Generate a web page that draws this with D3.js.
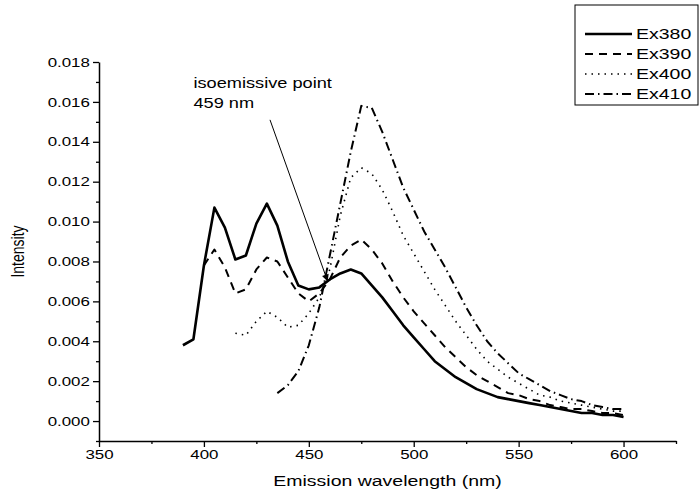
<!DOCTYPE html>
<html>
<head>
<meta charset="utf-8">
<script src="https://cdn.jsdelivr.net/npm/d3@7"></script>
<style>
  html, body { margin: 0; padding: 0; background: #fff; }
  svg { display: block; font-family: "Liberation Sans", Arial, sans-serif; }
</style>
</head>
<body>
<svg id="chart" width="700" height="495"></svg>
<script>
// ---- data ----
const wavelengths = [390, 395, 400, 405, 410, 415, 420, 425, 430, 435, 440, 445, 450, 455, 460, 465, 470,
  475, 480, 485, 490, 495, 500, 505, 510, 515, 520, 525, 530, 535, 540, 545, 550, 555, 560, 565, 570,
  575, 580, 585, 590, 595, 600];

const ex380 = [0.0038, 0.0041, 0.0078, 0.0107, 0.0097, 0.0081, 0.0083, 0.0099, 0.0109, 0.0098,
  0.0080, 0.0068, 0.0066, 0.0067, 0.0071, 0.0074, 0.0076, 0.0074, 0.0068, 0.0062,
  0.0055, 0.0048, 0.0042, 0.0036, 0.0030, 0.0026, 0.0022, 0.0019, 0.0016, 0.0014,
  0.0012, 0.0011, 0.0010, 0.0009, 0.0008, 0.0007, 0.0006, 0.0005, 0.0004, 0.0004,
  0.0003, 0.0003, 0.0002];

const ex390 = [null, null,
  0.0078, 0.0086, 0.0077, 0.0064, 0.0066, 0.0076, 0.0082, 0.0080, 0.0072, 0.0064,
  0.0060, 0.0064, 0.0071, 0.0082, 0.0088, 0.0091, 0.0086, 0.0079, 0.0070, 0.0062,
  0.0055, 0.0049, 0.0043, 0.0037, 0.0032, 0.0027, 0.0023, 0.0020, 0.0017, 0.0014,
  0.0013, 0.0011, 0.0010, 0.0008, 0.0007, 0.0006, 0.0006, 0.0005, 0.0004, 0.0004,
  0.0003];

const ex400 = [null, null, null, null, null,
  0.0044, 0.0043, 0.0050, 0.0055, 0.0052, 0.0047, 0.0048, 0.0054, 0.0062, 0.0076,
  0.0103, 0.0122, 0.0127, 0.0124, 0.0116, 0.0105, 0.0093, 0.0084, 0.0075, 0.0066,
  0.0058, 0.0050, 0.0043, 0.0036, 0.0030, 0.0026, 0.0022, 0.0019, 0.0016, 0.0013,
  0.0012, 0.0010, 0.0009, 0.0008, 0.0007, 0.0006, 0.0005, 0.0005];

const ex410 = [null, null, null, null, null, null, null, null, null,
  0.0014, 0.0018, 0.0025, 0.0038, 0.0057, 0.0083, 0.0109, 0.0135, 0.0158, 0.0157,
  0.0145, 0.0131, 0.0117, 0.0106, 0.0095, 0.0086, 0.0077, 0.0067, 0.0057, 0.0048,
  0.0040, 0.0034, 0.0029, 0.0024, 0.0021, 0.0018, 0.0015, 0.0013, 0.0011, 0.0010,
  0.0008, 0.0007, 0.0006, 0.0006];

const seriesNames = ['Ex380', 'Ex390', 'Ex400', 'Ex410'];
const seriesValues = [ex380, ex390, ex400, ex410];

const xMajorTicks = [350, 400, 450, 500, 550, 600];
const xMinorTicks = [375, 425, 475, 525, 575, 625];
const yMajorTicks = [0, 0.002, 0.004, 0.006, 0.008, 0.010, 0.012, 0.014, 0.016, 0.018];
const yMinorTicks = [-0.001, 0.001, 0.003, 0.005, 0.007, 0.009, 0.011, 0.013, 0.015, 0.017];

const isoPoint = { wl: 459, value: 0.0070 };
const isoLabel = ['isoemissive point', '459 nm'];

// ---- styles ----
const SX = 1.3; // source figure is stretched horizontally, so text is too
const styles = [
  { dash: null,          width: 2.6 },
  { dash: '8,6',         width: 2.0 },
  { dash: '1.5,5',       width: 1.6 },
  { dash: '9,4,1.5,4',   width: 2.0 }
];

const svg = d3.select('#chart');
const x = d3.scaleLinear().domain([350, 625]).range([99, 676]);
const y = d3.scaleLinear().domain([-0.001, 0.018]).range([441, 62]);

const defs = svg.append('defs');
defs.append('marker').attr('id', 'arrow')
  .attr('viewBox', '0 0 10 10').attr('refX', 10).attr('refY', 5)
  .attr('markerWidth', 9).attr('markerHeight', 7).attr('orient', 'auto')
  .attr('markerUnits', 'userSpaceOnUse')
  .append('path').attr('d', 'M0,0 L10,5 L0,10 z').attr('fill', '#000');

// ---- axes ----
const stretch = sel => sel.selectAll('text').attr('transform', `scale(${SX},1)`);

const gx = svg.append('g').attr('transform', `translate(0,${y.range()[0]})`);
gx.call(d3.axisBottom(x).tickValues(xMajorTicks).tickFormat(d3.format('d'))
    .tickSize(6).tickPadding(3).tickSizeOuter(0))
  .call(g => g.select('.domain').attr('stroke-width', 1.5))
  .call(g => g.selectAll('line').attr('stroke-width', 1.3))
  .call(g => g.selectAll('text').attr('font-size', 13).attr('font-family', null))
  .call(stretch);
gx.append('g').call(d3.axisBottom(x).tickValues(xMinorTicks).tickSize(3).tickFormat(''))
  .call(g => g.select('.domain').remove())
  .call(g => g.selectAll('line').attr('stroke-width', 1.3));

const gy = svg.append('g').attr('transform', `translate(${x.range()[0]},0)`);
gy.call(d3.axisLeft(y).tickValues(yMajorTicks).tickFormat(d3.format('.3f'))
    .tickSize(6).tickPadding(1).tickSizeOuter(0))
  .call(g => g.select('.domain').attr('stroke-width', 1.5))
  .call(g => g.selectAll('line').attr('stroke-width', 1.3))
  .call(g => g.selectAll('text').attr('font-size', 13).attr('font-family', null))
  .call(stretch);
gy.append('g').call(d3.axisLeft(y).tickValues(yMinorTicks).tickSize(3).tickFormat(''))
  .call(g => g.select('.domain').remove())
  .call(g => g.selectAll('line').attr('stroke-width', 1.3));

// axis titles
const xMid = (x.range()[0] + x.range()[1]) / 2;
svg.append('text')
  .attr('transform', `translate(${xMid},486) scale(${SX},1)`)
  .attr('text-anchor', 'middle').attr('font-size', 15)
  .text('Emission wavelength (nm)');
svg.append('text')
  .attr('transform', `translate(24,${(y.range()[0] + y.range()[1]) / 2}) scale(${SX},1) rotate(-90)`)
  .attr('text-anchor', 'middle').attr('font-size', 14)
  .text('Intensity');

// ---- curves ----
seriesValues.forEach((vals, i) => {
  const pts = wavelengths.map((w, j) => ({ w, v: vals[j] })).filter(d => d.v != null);
  const line = d3.line().x(d => x(d.w)).y(d => y(d.v));
  svg.append('path').datum(pts)
    .attr('fill', 'none').attr('stroke', '#000')
    .attr('stroke-width', styles[i].width)
    .attr('stroke-dasharray', styles[i].dash)
    .attr('stroke-linejoin', 'round')
    .attr('d', line);
});

// ---- annotation ----
const labX = x(395), labY = y(0.0167);
isoLabel.forEach((t, i) => {
  svg.append('text')
    .attr('transform', `translate(${labX},${labY + i * 20}) scale(${SX},1)`)
    .attr('font-size', 14).text(t);
});
svg.append('line')
  .attr('x1', x(431.5)).attr('y1', y(0.0151))
  .attr('x2', x(isoPoint.wl)).attr('y2', y(isoPoint.value))
  .attr('stroke', '#000').attr('stroke-width', 1)
  .attr('marker-end', 'url(#arrow)');

// ---- legend ----
const leg = svg.append('g').attr('transform', 'translate(575,5)');
leg.append('rect').attr('width', 123).attr('height', 100)
  .attr('fill', '#fff').attr('stroke', '#000').attr('stroke-width', 1);
seriesNames.forEach((name, i) => {
  const ry = 29 + i * 20;
  leg.append('line').attr('x1', 10).attr('x2', 57).attr('y1', ry).attr('y2', ry)
    .attr('stroke', '#000').attr('stroke-width', styles[i].width)
    .attr('stroke-dasharray', styles[i].dash);
  leg.append('text')
    .attr('transform', `translate(61,${ry + 5}) scale(${SX},1)`)
    .attr('font-size', 15).text(name);
});
</script>
</body>
</html>
